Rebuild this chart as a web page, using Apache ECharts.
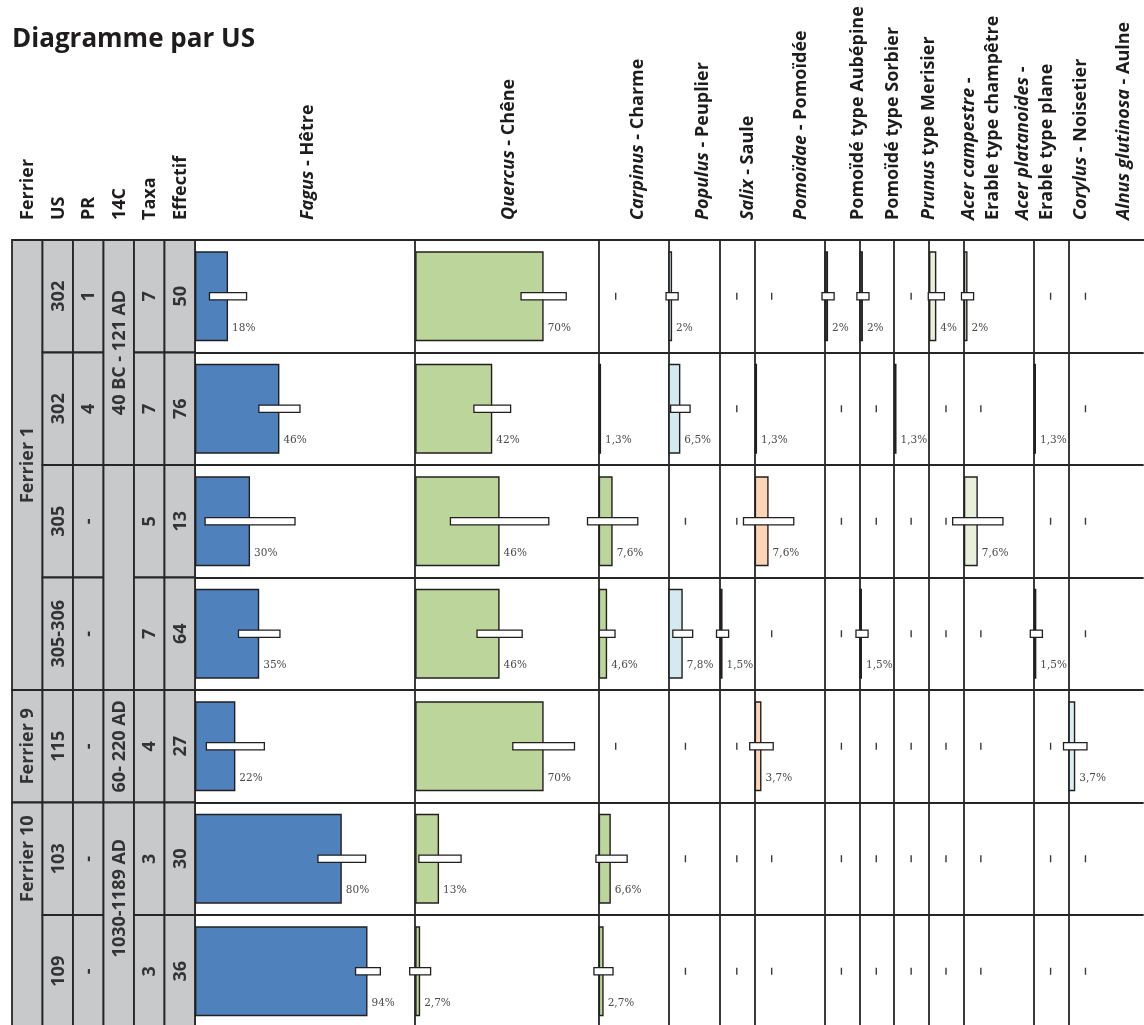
<!DOCTYPE html>
<html>
<head>
<meta charset="utf-8">
<script src="https://cdn.jsdelivr.net/npm/echarts@6/dist/echarts.min.js"></script>
<style>
  html, body { margin: 0; padding: 0; background: #ffffff; }
  #chart { width: 1144px; height: 1025px; }
</style>
</head>
<body>
<div id="chart"></div>
<script>
// ---------- Sample rows (one per US / prélèvement) ----------
const rowKeys = ['302-1', '302-4', '305', '305-306', '115', '103', '109'];

// ---------- Descriptive table ----------
const tableHeaders = ['Ferrier', 'US', 'PR', '14C', 'Taxa', 'Effectif'];
const ferrierCells = [['Ferrier 1', 0, 4], ['Ferrier 9', 4, 1], ['Ferrier 10', 5, 2]];
const usValues = ['302', '302', '305', '305-306', '115', '103', '109'];
const prValues = ['1', '4', '-', '-', '-', '-', '-'];
const c14Cells = [['40 BC - 121 AD', 0, 2], ['', 2, 2], ['60- 220 AD', 4, 1], ['1030-1189 AD', 5, 2]];
const taxaCounts = ['7', '7', '5', '7', '4', '3', '3'];
const effectifs = ['50', '76', '13', '64', '27', '30', '36'];

// ---------- Taxa (column headers) ----------
const taxonNames = [
  '{i|Fagus} - Hêtre',
  '{i|Quercus} - Chêne',
  '{i|Carpinus} - Charme',
  '{i|Populus} - Peuplier',
  '{i|Salix} - Saule',
  '{i|Pomoïdae} - Pomoïdée',
  'Pomoïdé type Aubépine',
  'Pomoïdé type Sorbier',
  '{i|Prunus} type Merisier',
  '{i|Acer campestre} -\nErable type champêtre',
  '{i|Acer platanoides} -\nErable type plane',
  '{i|Corylus} - Noisetier',
  '{i|Alnus glutinosa} - Aulne'
];

// ---------- Percentages per taxon (0 = absent) ----------
const fagus    = [18, 46, 30, 35, 22, 80, 94];
const quercus  = [70, 42, 46, 46, 70, 13, 2.7];
const carpinus = [0, 1.3, 7.6, 4.6, 0, 6.6, 2.7];
const populus  = [2, 6.5, 0, 7.8, 0, 0, 0];
const salix    = [0, 0, 0, 1.5, 0, 0, 0];
const pomoidae = [0, 1.3, 7.6, 0, 3.7, 0, 0];
const aubepine = [2, 0, 0, 0, 0, 0, 0];
const sorbier  = [2, 0, 0, 1.5, 0, 0, 0];
const prunus   = [0, 1.3, 0, 0, 0, 0, 0];
const acerCamp = [4, 0, 0, 0, 0, 0, 0];
const acerPlat = [2, 0, 7.6, 0, 0, 0, 0];
const corylus  = [0, 1.3, 0, 1.5, 0, 0, 0];
const alnus    = [0, 0, 0, 0, 3.7, 0, 0];

// ---------- Confidence intervals [low, high] in % (null = none drawn) ----------
const fagusCI    = [[7.9, 28.1], [34.8, 57.2], [5.5, 54.5], [23.7, 46.3], [6.2, 37.8], [67, 93], [87.5, 101]];
const quercusCI  = [[57.7, 82.3], [32, 52], [19.2, 72.8], [33.7, 58.3], [53.2, 86.8], [2, 25], [-3, 8.4]];
const carpinusCI = [null, null, [-6.1, 21.3], [0.3, 8.9], null, [-1.5, 15.5], [-2.6, 7.8]];
const populusCI  = [[-1.3, 5.3], [1.2, 11.8], null, [2.4, 13.2], null, null, null];
const salixCI    = [null, null, null, [-1.8, 4.8], null, null, null];
const pomoidaeCI = [null, null, [-6.1, 21.3], null, [-2.7, 10.1], null, null];
const aubepineCI = [[-1.3, 5.3], null, null, null, null, null, null];
const sorbierCI  = [[-1.3, 5.3], null, null, [-1.8, 4.8], null, null, null];
const prunusCI   = [null, null, null, null, null, null, null];
const acerCampCI = [[-0.4, 8.4], null, null, null, null, null, null];
const acerPlatCI = [[-1.3, 5.3], null, [-6.1, 21.3], null, null, null, null];
const corylusCI  = [null, null, null, [-1.8, 4.8], null, null, null];
const alnusCI    = [null, null, null, null, [-2.7, 10.1], null, null];

const taxonValues = [fagus, quercus, carpinus, populus, salix, pomoidae, aubepine,
  sorbier, prunus, acerCamp, acerPlat, corylus, alnus];
const taxonCI = [fagusCI, quercusCI, carpinusCI, populusCI, salixCI, pomoidaeCI, aubepineCI,
  sorbierCI, prunusCI, acerCampCI, acerPlatCI, corylusCI, alnusCI];

// ---------- Layout & style ----------
const PX_PER_PCT = 1.835;          // same horizontal scale in every taxon panel
const TOP = 240;
const ROW_H = 112.5;
const TABLE_LEFT = 12;
const TABLE_W = 183;
const PANEL_SPAN = [120, 100, 38, 28, 19, 38, 19, 19, 19, 19, 38, 19, 41]; // % shown per panel
const PANEL_FILL = ['#4f81bd', '#bcd59b', '#bcd59b', '#d3eaf0', '#404040', '#fbd5b5', '#404040',
  '#404040', '#404040', '#e8f0db', '#e8f0db', '#404040', '#daeef3'];
const HEADER_X = [307, 508, 637, 702, 747, 800, 857, 892, 928, 980, 1034, 1080, 1123];
const HEADER_BASE_Y = 220;
const LINE = '#262626';
const LINE_W = 1.8;
const HEAD_FONT = '"Open Sans", "Noto Sans", sans-serif';
const TEXT_ROW = { '0:5': 5, '3:5': 5.35 };   // label row position for tall merged cells

const fmtPct = v => String(v).replace('.', ',') + '%';

// ---------- Build grids, axes and series ----------
const grids = [], xAxes = [], yAxes = [], series = [];
let left = TABLE_LEFT + TABLE_W;

taxonValues.forEach((vals, i) => {
  const width = PANEL_SPAN[i] * PX_PER_PCT;
  grids.push({ left: left, top: TOP, width: width, height: ROW_H * rowKeys.length,
    outerBoundsMode: 'none', containLabel: false });
  left += width;

  xAxes.push({
    gridIndex: i, type: 'value', min: 0, max: PANEL_SPAN[i], position: 'top',
    axisLine: { show: true, onZero: false, lineStyle: { color: LINE, width: LINE_W } },
    axisTick: { show: false }, axisLabel: { show: false }, splitLine: { show: false }
  });
  yAxes.push({
    gridIndex: i, type: 'category', data: rowKeys, inverse: true,
    axisLine: { show: true, onZero: false, lineStyle: { color: LINE, width: LINE_W } },
    axisTick: { show: false }, axisLabel: { show: false },
    splitLine: { show: true, lineStyle: { color: LINE, width: LINE_W } }
  });

  // Percentage bars
  series.push({
    type: 'bar', xAxisIndex: i, yAxisIndex: i, barWidth: 90, silent: true,
    data: vals.map(v => (v > 0 ? v : '-')),
    itemStyle: { color: PANEL_FILL[i], borderColor: '#231f20', borderWidth: 1.4 },
    label: {
      show: true, position: ['100%', '100%'], offset: [4, -13],
      align: 'left', verticalAlign: 'middle',
      formatter: p => fmtPct(p.value),
      fontFamily: '"DejaVu Serif", serif', fontSize: 10.5, color: '#4a4a4a'
    },
    z: 2
  });

  // Confidence interval boxes
  const ciData = [];
  taxonCI[i].forEach((c, r) => { if (c) ciData.push([c[0], c[1], r]); });
  series.push({
    type: 'custom', xAxisIndex: i, yAxisIndex: i, silent: true, clip: false,
    encode: { x: [0, 1], y: 2 },
    data: ciData,
    renderItem: (params, api) => {
      const lo = api.coord([api.value(0), api.value(2)]);
      const hi = api.coord([api.value(1), api.value(2)]);
      return {
        type: 'rect',
        shape: { x: lo[0], y: lo[1] - 3.6, width: hi[0] - lo[0], height: 7.2 },
        style: { fill: '#ffffff', stroke: '#231f20', lineWidth: 1.3 }
      };
    },
    z: 4
  });

  // Absent taxon marks
  const zeroData = [];
  vals.forEach((v, r) => { if (!(v > 0)) zeroData.push([0, r]); });
  series.push({
    type: 'custom', xAxisIndex: i, yAxisIndex: i, silent: true, clip: false,
    encode: { x: 0, y: 1 },
    data: zeroData,
    renderItem: (params, api) => {
      const p = api.coord([0, api.value(1)]);
      return {
        type: 'rect',
        shape: { x: p[0] + 17 - 0.7, y: p[1] - 3.5, width: 1.4, height: 7 },
        style: { fill: '#3a3a3a' }
      };
    },
    z: 3
  });
});

// ---------- Left descriptive table ----------
const tIdx = taxonValues.length;
grids.push({ left: TABLE_LEFT, top: TOP, width: TABLE_W, height: ROW_H * rowKeys.length,
  outerBoundsMode: 'none', containLabel: false });
xAxes.push({ gridIndex: tIdx, type: 'category', data: tableHeaders, show: false });
yAxes.push({ gridIndex: tIdx, type: 'category', data: rowKeys, inverse: true, show: false });

const tableCells = [];
ferrierCells.forEach(c => tableCells.push([0, c[1], c[2], c[0]]));
usValues.forEach((v, r) => tableCells.push([1, r, 1, v]));
prValues.forEach((v, r) => tableCells.push([2, r, 1, v]));
c14Cells.forEach(c => tableCells.push([3, c[1], c[2], c[0]]));
taxaCounts.forEach((v, r) => tableCells.push([4, r, 1, v]));
effectifs.forEach((v, r) => tableCells.push([5, r, 1, v]));

series.push({
  type: 'custom', xAxisIndex: tIdx, yAxisIndex: tIdx, silent: true, clip: false,
  encode: { x: 0, y: 1 },
  data: tableCells.map(c => [c[0], c[1], c[2]]),
  renderItem: (params, api) => {
    const cell = tableCells[params.dataIndex];
    const col = cell[0], r = cell[1], span = cell[2];
    const c = api.coord([col, r]);
    const sz = api.size([1, 1]);
    const w = sz[0], h = sz[1];
    const key = col + ':' + r;
    const tr = (key in TEXT_ROW) ? TEXT_ROW[key] : r + (span - 1) / 2;
    const ty = c[1] + (tr - r) * h;
    return {
      type: 'group',
      children: [
        { type: 'rect', shape: { x: c[0] - w / 2, y: c[1] - h / 2, width: w, height: h * span },
          style: { fill: '#c8c9cb', stroke: LINE, lineWidth: LINE_W } },
        { type: 'text', x: c[0] + 1, y: ty, rotation: Math.PI / 2,
          style: { text: cell[3], x: 0, y: 0, align: 'center', verticalAlign: 'middle',
            fontFamily: HEAD_FONT, fontWeight: 'bold', fontSize: 18, fill: '#333333' } }
      ]
    };
  },
  z: 2
});

// ---------- Title and rotated headers ----------
const graphics = [{
  type: 'text', x: 12, y: 40,
  style: { text: 'Diagramme par US', fontFamily: HEAD_FONT, fontWeight: 'bold', fontSize: 26,
    fill: '#1e1c1d', align: 'left', verticalAlign: 'middle' }
}];
tableHeaders.forEach((t, i) => {
  graphics.push({
    type: 'text', x: TABLE_LEFT + TABLE_W / 6 * (i + 0.5) + 1, y: HEADER_BASE_Y, rotation: Math.PI / 2,
    style: { text: t, fontFamily: HEAD_FONT, fontWeight: 'bold', fontSize: 18, fill: '#1e1c1d',
      align: 'left', verticalAlign: 'middle' }
  });
});
taxonNames.forEach((t, i) => {
  graphics.push({
    type: 'text', x: HEADER_X[i] + 1, y: HEADER_BASE_Y, rotation: Math.PI / 2,
    style: {
      text: t, fontFamily: HEAD_FONT, fontWeight: 'bold', fontSize: 18, fill: '#1e1c1d',
      align: 'left', verticalAlign: 'middle', lineHeight: 24,
      rich: {
        i: { fontFamily: HEAD_FONT, fontWeight: 'bold', fontStyle: 'italic', fontSize: 18,
          fill: '#1e1c1d', lineHeight: 24 }
      }
    }
  });
});

const chart = echarts.init(document.getElementById('chart'), null, { renderer: 'canvas' });
chart.setOption({
  animation: false,
  backgroundColor: '#ffffff',
  grid: grids,
  xAxis: xAxes,
  yAxis: yAxes,
  series: series,
  graphic: graphics
});
</script>
</body>
</html>
